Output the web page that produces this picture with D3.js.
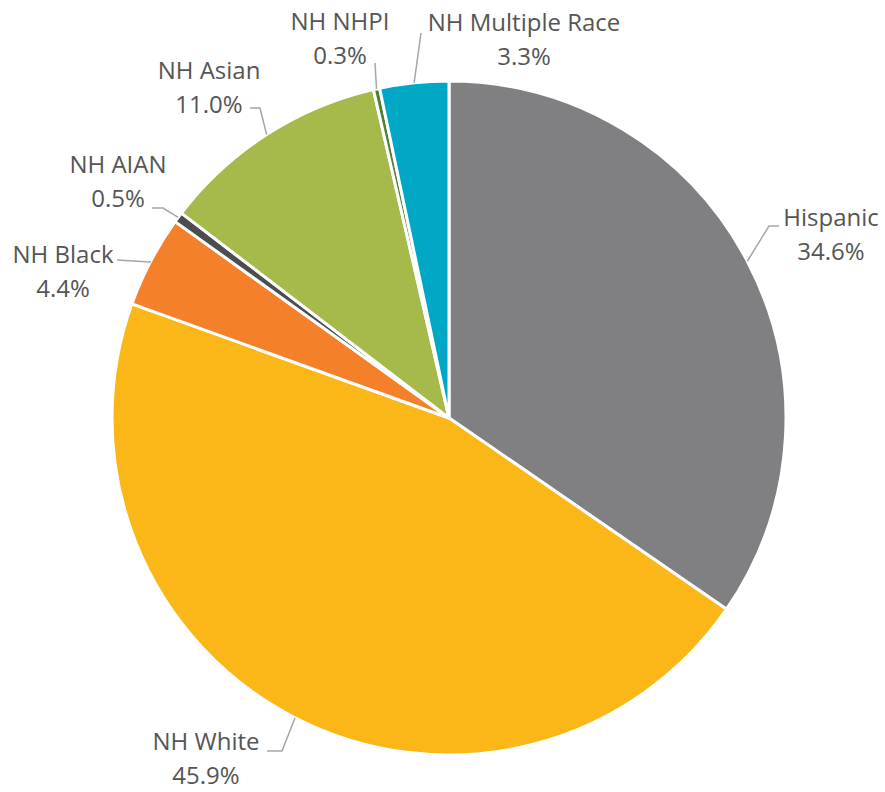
<!DOCTYPE html>
<html><head><meta charset="utf-8">
<script src="https://cdn.jsdelivr.net/npm/d3@7"></script>
<style>html,body{margin:0;padding:0;background:#fff;}svg{display:block;}</style>
</head><body>
<svg id="chart" width="885" height="792"></svg>
<script>
const categories = ["Hispanic","NH White","NH Black","NH AIAN","NH Asian","NH NHPI","NH Multiple Race"];
const values = [34.6, 45.9, 4.4, 0.5, 11.0, 0.3, 3.3];
const valueLabels = ["34.6%","45.9%","4.4%","0.5%","11.0%","0.3%","3.3%"];
const colors = ["#808083","#FBB617","#F4812A","#4D4D4F","#A6BA4B","#4F7F3B","#00A8C6"];

// label layout (text centre x, first baseline y, leader elbow, leader end)
const labelLayout = [
  {x:831, y:226, elbow:[769,226], end:[779,226]},
  {x:206, y:750, elbow:[282,751], end:[267,751]},
  {x:63,  y:263, elbow:[150,262], end:[117,260]},
  {x:118, y:173, elbow:[163,208], end:[152,208]},
  {x:209, y:79,  elbow:[260,108], end:[250,108]},
  {x:340, y:30,  elbow:[375,63],  end:[375,63]},
  {x:524, y:31,  elbow:[421,33],  end:[421,33]}
];

const W=885,H=792, cx=449, cy=418, R=337;
const svg=d3.select("#chart");
const g=svg.append("g").attr("transform",`translate(${cx},${cy})`);
const data=categories.map((c,i)=>({cat:c,value:values[i],label:valueLabels[i],color:colors[i],lay:labelLayout[i]}));
const pie=d3.pie().value(d=>d.value).sort(null);
const arc=d3.arc().innerRadius(0).outerRadius(R);
const arcs=pie(data);
g.selectAll("path.slice").data(arcs).enter().append("path")
  .attr("class","slice").attr("d",arc).attr("fill",d=>d.data.color)
  .attr("stroke","#fff").attr("stroke-width",3).attr("stroke-linejoin","round");

// leaders
const line=d3.line();
arcs.forEach(a=>{
  const m=(a.startAngle+a.endAngle)/2;
  const px=cx+R*Math.sin(m), py=cy-R*Math.cos(m);
  const L=a.data.lay;
  svg.append("path").attr("d",line([[px,py],L.elbow,L.end]))
    .attr("fill","none").attr("stroke","#A6A6A6").attr("stroke-width",1.5);
});
// labels
arcs.forEach(a=>{
  const L=a.data.lay;
  const t=svg.append("text").attr("text-anchor","middle")
    .attr("font-family","'Open Sans', sans-serif").attr("font-size",24).attr("fill","#555555");
  t.append("tspan").attr("x",L.x).attr("y",L.y).text(a.data.cat);
  t.append("tspan").attr("x",L.x).attr("y",L.y+34).text(a.data.label);
});
</script>
</body></html>
